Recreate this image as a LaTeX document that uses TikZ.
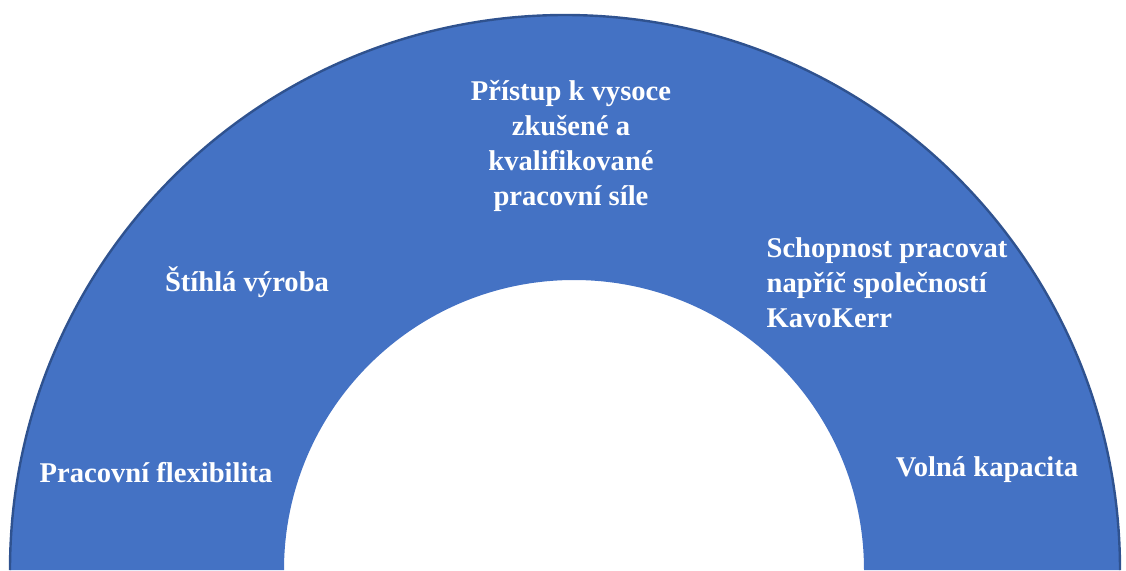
\documentclass[tikz,border=0pt]{standalone}
\usepackage{fontspec}
\setmainfont{Liberation Serif}
\usepackage{xcolor}
\usetikzlibrary{positioning,calc}
\definecolor{arcblue}{HTML}{4472C4}
\definecolor{arcline}{HTML}{2F528F}

\begin{document}
\begin{tikzpicture}[x=0.5pt, y=0.5pt,
    every node/.style={font=\fontsize{14.3}{17.5}\selectfont\bfseries, text=white, align=center, inner sep=0pt}]
  \def\ro{555}
  \def\ri{290}

  \useasboundingbox (0,0) rectangle (1126,570);

  \coordinate (oc) at (565,0);
  \coordinate (ic) at (574,0);

  \fill[arcblue] ($(oc)+(-\ro,0)$) arc[start angle=180, end angle=0, radius=\ro]
    -- ($(ic)+(\ri,0)$) arc[start angle=0, end angle=180, radius=\ri] -- cycle;
  \draw[arcline, line width=1.2] ($(oc)+(-\ro,0)$) arc[start angle=180, end angle=0, radius=\ro];

  \node (access) at (571,424) {Přístup k vysoce\\zkušené a\\kvalifikované\\pracovní síle};
  \node (lean) at (247,288) {Štíhlá výroba};
  \node[align=left] (across) at (887,287) {Schopnost pracovat\\napříč společností\\KavoKerr};
  \node (flex) at (156,97) {Pracovní flexibilita};
  \node (spare) at (987,100) {Volná kapacita};
\end{tikzpicture}
\end{document}
